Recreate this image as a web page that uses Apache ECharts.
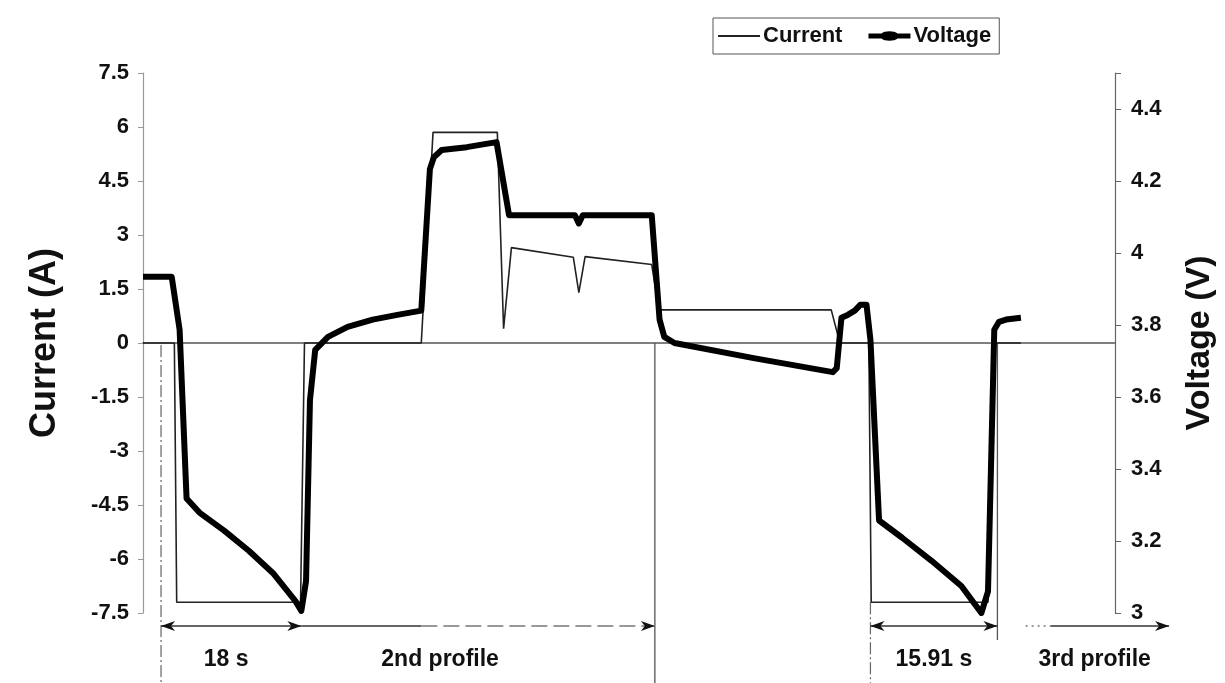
<!DOCTYPE html>
<html><head><meta charset="utf-8">
<script src="https://cdn.jsdelivr.net/npm/echarts@6/dist/echarts.min.js"></script>
<style>html,body{margin:0;padding:0;background:#fff}#c{width:1225px;height:683px}</style>
</head><body><div id="c"></div>
<script>
// ---- data (time in s) ----
const currentTime   = [0, 4.0, 4.3, 20.1, 20.6, 35.5, 37.0, 45.2, 46.0, 47.0, 54.9, 55.6, 56.4, 64.9, 65.8, 87.8, 88.9, 92.6, 92.9, 107.8, 108.7, 112.0];
const currentValues = [0, 0, -7.2, -7.2, 0, 0, 5.85, 5.85, 0.4, 2.65, 2.38, 1.4, 2.4, 2.18, 0.92, 0.92, 0, 0, -7.2, -7.2, 0, 0];
const voltageTime   = [0, 3.66, 4.67, 5.56, 7.2, 10.35, 13.5, 16.67, 19.45, 20.2, 20.8, 21.3, 21.97, 23.6, 26.1, 29.3, 32.45, 35.5, 36.6, 37.1, 38.1, 41.3, 45.1, 46.7, 55.1, 55.6, 56.1, 64.9, 65.9, 66.5, 67.8, 77.9, 88.0, 88.5, 89.1, 89.9, 90.8, 91.5, 92.3, 92.8, 93.9, 96.85, 100.6, 104.4, 106.95, 107.8, 108.6, 109.2, 110.1, 112.0];
const voltageValues = [3.934, 3.934, 3.787, 3.318, 3.279, 3.229, 3.173, 3.109, 3.033, 3.006, 3.089, 3.591, 3.731, 3.767, 3.795, 3.815, 3.828, 3.840, 4.233, 4.266, 4.286, 4.294, 4.308, 4.105, 4.105, 4.082, 4.105, 4.105, 3.815, 3.767, 3.750, 3.708, 3.669, 3.680, 3.820, 3.828, 3.840, 3.856, 3.856, 3.759, 3.257, 3.209, 3.145, 3.075, 3.000, 3.060, 3.787, 3.809, 3.815, 3.820];
const currentTicks = [-7.5, -6, -4.5, -3, -1.5, 0, 1.5, 3, 4.5, 6, 7.5];
const voltageTicks = [3, 3.2, 3.4, 3.6, 3.8, 4, 4.2, 4.4];
// annotation spans (start, end, label time) in s
const spanStart  = [2.3, 20.2, 92.8, 112.6];
const spanEnd    = [20.2, 65.3, 109.0, 130.9];
const spanLabelT = [10.6, 37.9, 100.9, 121.4];
const spanLabels = ['18 s', '2nd profile', '15.91 s', '3rd profile'];
const spanBoth   = [true, false, true, false];

const FONT = '"Liberation Sans", Arial, sans-serif';
const chart = echarts.init(document.getElementById('c'), null, {renderer: 'canvas'});

const option = {
  backgroundColor: '#fff',
  animation: false,
  grid: {left: 143, right: 100, top: 73, bottom: 70, containLabel: false},
  legend: {
    data: [
      {name: 'Current', icon: 'path://M0,0 L42,0 L42,2 L0,2 Z'},
      {name: 'Voltage', icon: 'path://M0,3 L13,3 C16,0 26,0 29,3 L42,3 L42,8 L29,8 C26,11 16,11 13,8 L0,8 Z'}
    ],
    left: 713, top: 18,
    padding: [7, 8, 7, 5],
    itemGap: 26, itemWidth: 42, itemHeight: 12,
    borderColor: '#555', borderWidth: 1,
    textStyle: {fontFamily: FONT, fontSize: 22, fontWeight: 'bold', color: '#111', padding: [0, 0, 0, -2]}
  },
  xAxis: {
    type: 'value', min: 0, max: 124,
    axisLine: {show: true, onZero: true, lineStyle: {color: '#555', width: 1.5}},
    axisTick: {show: false}, axisLabel: {show: false}, splitLine: {show: false}
  },
  yAxis: [{
    type: 'value', min: currentTicks[0], max: currentTicks[currentTicks.length - 1], interval: 1.5,
    name: 'Current (A)', nameLocation: 'middle', nameGap: 80, nameRotate: 90,
    nameTextStyle: {fontFamily: FONT, fontSize: 36, fontWeight: 'bold', color: '#111'},
    axisLine: {show: true, lineStyle: {color: '#999', width: 1.2}},
    axisTick: {show: true, length: 5, lineStyle: {color: '#999'}},
    axisLabel: {fontFamily: FONT, fontSize: 22, fontWeight: 'bold', color: '#111', margin: 14},
    splitLine: {show: false}
  }, {
    type: 'value', min: voltageTicks[0], max: 4.5, interval: 0.2, position: 'right',
    name: 'Voltage (V)', nameLocation: 'middle', nameGap: 68, nameRotate: 90,
    nameTextStyle: {fontFamily: FONT, fontSize: 34, fontWeight: 'bold', color: '#111'},
    axisLine: {show: true, lineStyle: {color: '#666', width: 1.2}},
    axisTick: {show: true, length: 6, lineStyle: {color: '#666'}},
    axisLabel: {fontFamily: FONT, fontSize: 22, fontWeight: 'bold', color: '#111', margin: 16,
      formatter: v => voltageTicks.some(t => Math.abs(t - v) < 1e-6) ? String(+v.toFixed(1)) : ''},
    splitLine: {show: false}
  }],
  series: [{
    name: 'Current', type: 'line', yAxisIndex: 0,
    data: currentTime.map((t, i) => [t, currentValues[i]]),
    symbol: 'none', lineStyle: {color: '#222', width: 1.6}, itemStyle: {color: '#222'}, z: 2
  }, {
    name: 'Voltage', type: 'line', yAxisIndex: 1,
    data: voltageTime.map((t, i) => [t, voltageValues[i]]),
    symbol: 'none',
    lineStyle: {color: '#000', width: 6, join: 'round'}, itemStyle: {color: '#000'}, z: 3
  }]
};
chart.setOption(option);

// ---- annotations below the plot, positioned through the axes ----
function px(t, i) { return chart.convertToPixel({gridIndex: 0}, [t, i]); }
const yZero = px(0, 0)[1];
const yBottomAxis = px(0, -7.5)[1];
const arrowY = yBottomAxis + 13;
const labelY = yBottomAxis + 47;
const g = [];
function line(x1, y1, x2, y2, stroke, w, dash) {
  g.push({type: 'line', shape: {x1, y1, x2, y2}, style: {stroke, lineWidth: w, lineDash: dash || null}, silent: true});
}
function head(x, y, dir) {
  g.push({type: 'polygon', shape: {points: [[x, y], [x - dir * 14, y - 5], [x - dir * 10, y], [x - dir * 14, y + 5]]},
    style: {fill: '#111'}, silent: true});
}
// boundary verticals
const bx0 = px(spanStart[0], 0)[0];
line(bx0, yZero + 2, bx0, 683, '#666', 1.2, [12, 3, 2, 3]);
const bx1 = px(spanEnd[1], 0)[0];
line(bx1, yZero, bx1, 683, '#555', 1.3);
const bx2 = px(spanStart[2], 0)[0];
line(bx2, px(0, -7.2)[1], bx2, 683, '#666', 1.2, [12, 3, 2, 3]);
const bx3 = px(spanEnd[2], 0)[0];
line(bx3, yZero, bx3, arrowY + 14, '#555', 1.3);

for (let k = 0; k < spanStart.length; k++) {
  const xs = px(spanStart[k], 0)[0], xe = px(spanEnd[k], 0)[0];
  if (k === 1) {
    line(xs, arrowY, xs + 120, arrowY, '#333', 1.3);
    line(xs + 120, arrowY, xe, arrowY, '#777', 1.3, [16, 6]);
  } else if (k === 3) {
    line(xs, arrowY, xs + 25, arrowY, '#777', 1.3, [2, 4]);
    line(xs + 25, arrowY, xe, arrowY, '#333', 1.3);
  } else {
    line(xs, arrowY, xe, arrowY, '#333', 1.3);
  }
  head(xe, arrowY, 1);
  if (spanBoth[k]) head(xs, arrowY, -1);
  g.push({type: 'text', x: px(spanLabelT[k], 0)[0], y: labelY, silent: true,
    style: {text: spanLabels[k], fontFamily: FONT, fontSize: 23, fontWeight: 'bold', fill: '#111',
      align: 'center', verticalAlign: 'middle'}});
}
chart.setOption({graphic: g});
</script></body></html>
